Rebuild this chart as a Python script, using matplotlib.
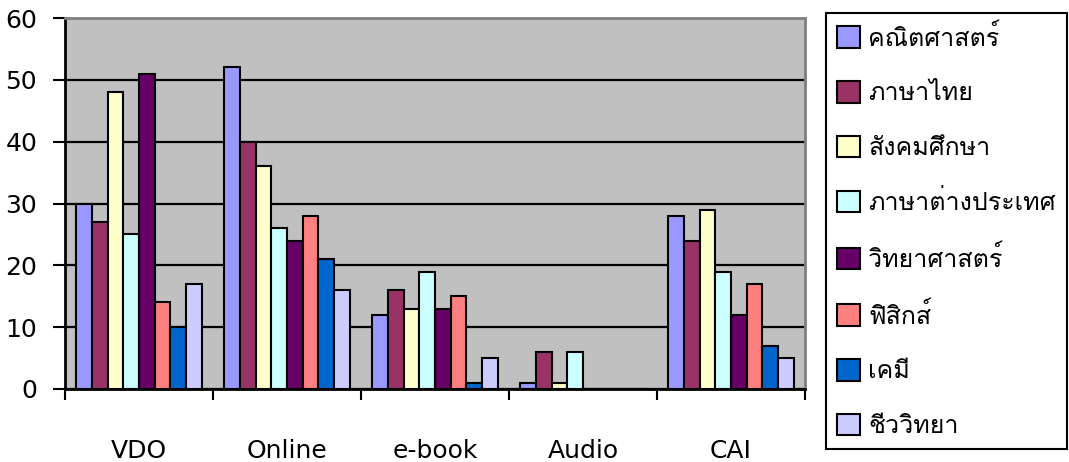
import matplotlib
import numpy as np

matplotlib.use("Agg")
import matplotlib.pyplot as plt
from matplotlib.patches import Patch

plt.rcParams["font.family"] = ["DejaVu Sans", "Loma"]

# media types on the x-axis
categories = ["VDO", "Online", "e-book", "Audio", "CAI"]

# subjects, one series each
subjects = [
    "คณิตศาสตร์",
    "ภาษาไทย",
    "สังคมศึกษา",
    "ภาษาต่างประเทศ",
    "วิทยาศาสตร์",
    "ฟิสิกส์",
    "เคมี",
    "ชีววิทยา",
]

math_values = [30, 52, 12, 1, 28]
thai_values = [27, 40, 16, 6, 24]
social_values = [48, 36, 13, 1, 29]
foreign_values = [25, 26, 19, 6, 19]
science_values = [51, 24, 13, 0, 12]
physics_values = [14, 28, 15, 0, 17]
chemistry_values = [10, 21, 1, 0, 7]
biology_values = [17, 16, 5, 0, 5]

series_values = [
    math_values,
    thai_values,
    social_values,
    foreign_values,
    science_values,
    physics_values,
    chemistry_values,
    biology_values,
]

colors = [
    "#9999FF",
    "#993366",
    "#FFFFCC",
    "#CCFFFF",
    "#660066",
    "#FF8080",
    "#0066CC",
    "#CCCCFF",
]

figure = plt.figure(figsize=(10.69, 4.62), dpi=100)
axis = figure.add_axes([65 / 1069, 1 - 389 / 462, 740 / 1069, 371 / 462])
axis.set_facecolor("#C0C0C0")

x = np.arange(len(categories))
group_width = 0.85
bar_width = group_width / len(series_values)
for index, (values, color) in enumerate(zip(series_values, colors)):
    offset = -group_width / 2 + bar_width * (index + 0.5)
    axis.bar(
        x + offset,
        values,
        width=bar_width,
        color=color,
        edgecolor="black",
        linewidth=1.5,
        zorder=3,
    )

axis.set_xlim(-0.5, len(categories) - 0.5)
axis.set_ylim(0, 60)
axis.set_yticks(range(0, 61, 10))
axis.yaxis.grid(True, color="black", linewidth=1.6, zorder=1)
axis.set_axisbelow(True)

# ticks sit between the categories, labels sit in the middle
axis.set_xticks(np.arange(-0.5, len(categories)), labels=[])
axis.set_xticks(x, labels=categories, minor=True)
axis.tick_params(axis="x", which="major", direction="out", length=8, width=1.5)
axis.tick_params(axis="x", which="minor", length=0, pad=36, labelsize=18)
axis.tick_params(axis="y", direction="out", length=9, width=1.5, pad=11, labelsize=18)

for side in ["left", "bottom"]:
    axis.spines[side].set_color("black")
    axis.spines[side].set_linewidth(2)
for side in ["top", "right"]:
    axis.spines[side].set_color("#808080")
    axis.spines[side].set_linewidth(2)

handles = [
    Patch(facecolor=color, edgecolor="black", linewidth=1.5) for color in colors
]
legend = figure.legend(
    handles,
    subjects,
    loc="upper left",
    bbox_to_anchor=(826 / 1069, 1 - 13 / 462),
    borderaxespad=0,
    fontsize=18,
    handlelength=0.92,
    handleheight=0.95,
    handletextpad=0.32,
    labelspacing=1.21,
    borderpad=0.45,
    fancybox=False,
    framealpha=1,
    edgecolor="black",
)
legend.get_frame().set_linewidth(1.5)

figure.savefig("out.png")
plt.close(figure)
